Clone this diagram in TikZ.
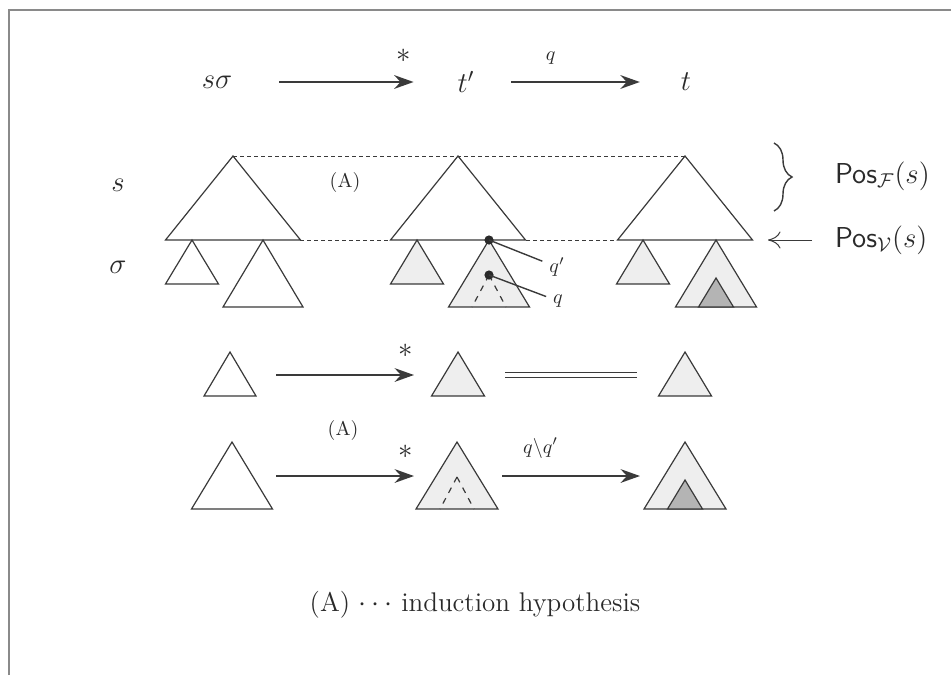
\documentclass[tikz,border=0pt]{standalone}
\usepackage{amssymb}
\usepackage{tikz}
\usetikzlibrary{arrows.meta,positioning,calc,decorations.pathreplacing}
\definecolor{TRInk}{HTML}{2A2A2A}
\definecolor{TRLine}{HTML}{3A3A3A}
\definecolor{TRDot}{HTML}{EEEEEE}
\definecolor{TRDark}{HTML}{B4B4B4}
\definecolor{TRFrame}{HTML}{8A8A8A}
\tikzset{
  flow/.style={-{Stealth[length=3.4mm,width=2.4mm]},TRLine,line width=1.2pt},
  tree/.style={draw=TRLine,line width=0.6pt,fill=white,line join=miter},
  treedot/.style={tree,fill=TRDot},
  treedark/.style={tree,fill=TRDark},
  inner/.style={TRLine,line width=0.6pt,dashed},
  link/.style={TRLine,line width=0.5pt,dash pattern=on 2pt off 1.5pt},
  pin/.style={circle,fill=TRInk,inner sep=0pt,minimum size=4.6pt},
  pinline/.style={TRLine,line width=0.7pt},
  biglabel/.style={text=TRInk,font=\fontsize{14.4}{17}\selectfont},
  smalllabel/.style={text=TRInk,font=\fontsize{10}{12}\selectfont},
}
% apex x, apex y, half width, height
\newcommand{\treetri}[5][tree]{%
  \draw[#1] (#2,#3) -- ++(-#4,#5) -- ++(2*#4,0) -- cycle;%
}

\begin{document}
\begin{tikzpicture}[x=.5pt,y=-.5pt]
  \useasboundingbox (0,0) rectangle (951,675);
  \draw[TRFrame,line width=.6pt] (9,675) -- (9,10) -- (951,10);

  % top row
  \node[biglabel] (ssig) at (217,82) {$s\sigma$};
  \node[biglabel] (tpr) at (466,82) {$t'$};
  \node[biglabel] (tfin) at (686,82) {$t$};
  \draw[flow,shorten <=20pt,shorten >=18.5pt] (ssig) -- node[pos=.78,above=6pt,biglabel]{$*$} (tpr);
  \draw[flow,shorten <=15pt,shorten >=17pt] (tpr) -- node[pos=.36,above=5pt,smalllabel]{$q$} (tfin);

  \node[biglabel] (slab) at (118,185) {$s$};
  \node[biglabel] (siglab) at (118,267) {$\sigma$};
  \node[smalllabel] (hypA) at (345,182) {(A)};

  % upper trees s
  \draw[link] (233,156) -- (685,156);
  \draw[link] (300,240) -- (390,240) (526,240) -- (617,240);
  \treetri{233}{156}{67.5}{84}
  \treetri{458}{156}{67.5}{84}
  \treetri{685}{156}{67.5}{84}

  % substitution sigma
  \treetri{192}{240}{26.5}{44}
  \treetri{263}{240}{40}{67}
  \treetri[treedot]{417}{240}{26.5}{44}
  \treetri[treedot]{489}{240}{40.5}{67}
  \draw[inner] (489,275) -- (472,307) (489,275) -- (506,307);
  \treetri[treedot]{643}{240}{26.5}{44}
  \treetri[treedot]{716}{240}{40.5}{67}
  \treetri[treedark]{716}{278}{17.5}{29}

  \node[pin] (qpdot) at (489,240) {};
  \node[pin] (qdot) at (489,275) {};
  \node[smalllabel] (qplab) at (557,267) {$q'$};
  \node[smalllabel] (qlab) at (558,301) {$q$};
  \draw[pinline] (qpdot.center) -- (qplab);
  \draw[pinline] (qdot.center) -- (qlab);

  % positions
  \draw[TRLine,line width=.7pt,decorate,decoration={brace,amplitude=9pt}]
    (774,143) -- (774,211);
  \node[biglabel,anchor=west] (posf) at (828,176) {$\mathsf{Pos}_{\mathcal{F}}(s)$};
  \node[biglabel,anchor=west] (posv) at (828,240) {$\mathsf{Pos}_{\mathcal{V}}(s)$};
  \coordinate (vbase) at (768,240);
  \draw[TRLine,line width=.5pt,-{To[length=2.2mm,width=3mm]},shorten <=8pt] (posv.west) -- (vbase);

  % second row
  \treetri{230}{352}{26}{44}
  \treetri[treedot]{458}{352}{26.5}{44}
  \treetri[treedot]{685}{352}{26.5}{44}
  \coordinate (ma) at (276,375);
  \coordinate (mb) at (414,375);
  \coordinate (mc) at (505,375);
  \coordinate (md) at (637,375);
  \draw[flow] (ma) -- node[pos=.94,above=5pt,biglabel]{$*$} (mb);
  \draw[TRLine,line width=.5pt,double,double distance=2.4pt] (mc) -- (md);

  \node[smalllabel] (hypB) at (343,430) {(A)};

  % third row
  \treetri{232}{442}{40.5}{67}
  \treetri[treedot]{457}{442}{41}{67}
  \draw[inner] (457,477) -- (440,509) (457,477) -- (474,509);
  \treetri[treedot]{685}{442}{41}{67}
  \treetri[treedark]{685}{480}{17.5}{29}
  \coordinate (la) at (276,476);
  \coordinate (lb) at (414,476);
  \coordinate (lc) at (502,476);
  \coordinate (ld) at (640,476);
  \draw[flow] (la) -- node[pos=.94,above=5pt,biglabel]{$*$} (lb);
  \draw[flow] (lc) -- node[pos=.28,above=5pt,smalllabel]{$q\backslash q'$} (ld);

  \node[text=TRInk,font=\fontsize{13.5}{16}\selectfont] (legend) at (475,605)
    {(A) $\cdots$ induction hypothesis};
\end{tikzpicture}
\end{document}
